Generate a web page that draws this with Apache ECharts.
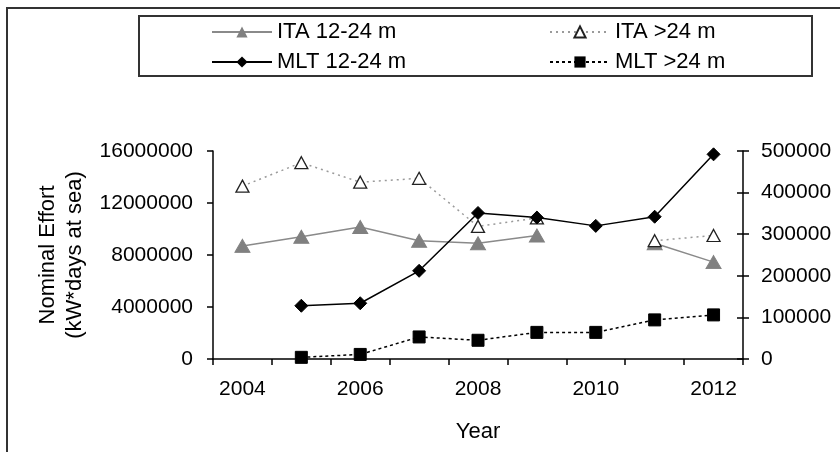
<!DOCTYPE html>
<html>
<head>
<meta charset="utf-8">
<script src="https://cdn.jsdelivr.net/npm/echarts@6/dist/echarts.min.js"></script>
<style>
html,body{margin:0;padding:0;background:#fff;}
#chart{width:840px;height:452px;}
</style>
</head>
<body>
<div id="chart"></div>
<script>
// ---- data ----
var years = ['2004','2005','2006','2007','2008','2009','2010','2011','2012'];
var ita1224 = [8700000, 9400000, 10150000, 9100000, 8900000, 9500000, null, 8900000, 7450000];
var ita24   = [13300000, 15100000, 13600000, 13900000, 10200000, 10850000, null, 9100000, 9500000];
var mlt1224 = [null, 128000, 134000, 212000, 351000, 340000, 320000, 342000, 492000];
var mlt24   = [null, 4000, 11000, 53000, 45000, 64000, 64000, 94000, 106000];
var leftTicks = {min: 0, max: 16000000, interval: 4000000};
var rightTicks = {min: 0, max: 500000, interval: 100000};
var names = ['ITA 12-24 m', 'ITA >24 m', 'MLT 12-24 m', 'MLT >24 m'];

var FONT = 'Liberation Sans, Arial, sans-serif';
var chart = echarts.init(document.getElementById('chart'), null, {renderer: 'canvas'});
var plain = function (v) { return String(v); };

var legendText = {fontFamily: FONT, fontSize: 22, color: '#000', width: 150, lineHeight: 24};
var option = {
  backgroundColor: '#fff',
  animation: false,
  graphic: [
    {type: 'polyline', shape: {points: [[7, 452], [7, 8], [840, 8]]}, style: {stroke: '#333', lineWidth: 2, fill: null}},
    {type: 'rect', shape: {x: 139, y: 16, width: 673, height: 60}, style: {stroke: '#333', lineWidth: 2, fill: null}}
  ],
  legend: [
    {data: [names[0], names[1]], left: 211, top: 20, padding: 0, itemGap: 122, itemWidth: 60, itemHeight: 14, textStyle: legendText},
    {data: [names[2], names[3]], left: 211, top: 50, padding: 0, itemGap: 122, itemWidth: 60, itemHeight: 14, textStyle: legendText}
  ],
  grid: {left: 213, right: 97, top: 151, bottom: 93},
  xAxis: {
    type: 'category',
    data: years,
    boundaryGap: true,
    name: 'Year',
    nameLocation: 'middle',
    nameGap: 62,
    nameTextStyle: {fontFamily: FONT, fontSize: 22, color: '#000'},
    axisLine: {lineStyle: {color: '#000', width: 1.5}},
    axisTick: {show: true, interval: 0, length: 6, lineStyle: {color: '#000', width: 1.5}},
    axisLabel: {interval: 1, margin: 20, fontFamily: FONT, fontSize: 21, color: '#000'},
    splitLine: {show: false}
  },
  yAxis: [
    {
      type: 'value', position: 'left',
      min: leftTicks.min, max: leftTicks.max, interval: leftTicks.interval,
      name: 'Nominal Effort\n(kW*days at sea)',
      nameLocation: 'middle', nameGap: 116, nameRotate: 90,
      nameTextStyle: {fontFamily: FONT, fontSize: 22, color: '#000', lineHeight: 27, align: 'center'},
      axisLine: {show: true, lineStyle: {color: '#000', width: 1.5}},
      axisTick: {show: true, length: 6, lineStyle: {color: '#000', width: 1.5}},
      axisLabel: {margin: 20, fontFamily: FONT, fontSize: 21, color: '#000', formatter: plain},
      splitLine: {show: false}
    },
    {
      type: 'value', position: 'right',
      min: rightTicks.min, max: rightTicks.max, interval: rightTicks.interval,
      axisLine: {show: true, lineStyle: {color: '#000', width: 1.5}},
      axisTick: {show: true, length: 6, lineStyle: {color: '#000', width: 1.5}},
      axisLabel: {margin: 18, fontFamily: FONT, fontSize: 21, color: '#000', formatter: plain},
      splitLine: {show: false}
    },
    {
      type: 'value', position: 'right',
      min: rightTicks.min, max: rightTicks.max, interval: rightTicks.interval,
      axisLine: {show: false},
      axisTick: {show: true, inside: true, length: 6, lineStyle: {color: '#000', width: 1.5}},
      axisLabel: {show: false},
      splitLine: {show: false}
    }
  ],
  series: [
    {
      name: names[0], type: 'line', yAxisIndex: 0, data: ita1224,
      connectNulls: false, symbol: 'triangle', symbolSize: [15, 13],
      lineStyle: {color: '#8a8a8a', width: 1.5},
      itemStyle: {color: '#808080', borderColor: '#808080'}
    },
    {
      name: names[1], type: 'line', yAxisIndex: 0, data: ita24,
      connectNulls: false, symbol: 'triangle', symbolSize: [13, 12],
      lineStyle: {color: '#9a9a9a', width: 1.5, type: [2, 4]},
      itemStyle: {color: '#fff', borderColor: '#222', borderWidth: 1.3}
    },
    {
      name: names[2], type: 'line', yAxisIndex: 1, data: mlt1224,
      connectNulls: false, symbol: 'diamond', symbolSize: 13,
      lineStyle: {color: '#000', width: 1.5},
      itemStyle: {color: '#000', borderColor: '#000'}
    },
    {
      name: names[3], type: 'line', yAxisIndex: 1, data: mlt24,
      connectNulls: false, symbol: 'rect', symbolSize: 12,
      lineStyle: {color: '#000', width: 1.5, type: [3, 3]},
      itemStyle: {color: '#000', borderColor: '#000'}
    }
  ]
};
chart.setOption(option);
</script>
</body>
</html>
